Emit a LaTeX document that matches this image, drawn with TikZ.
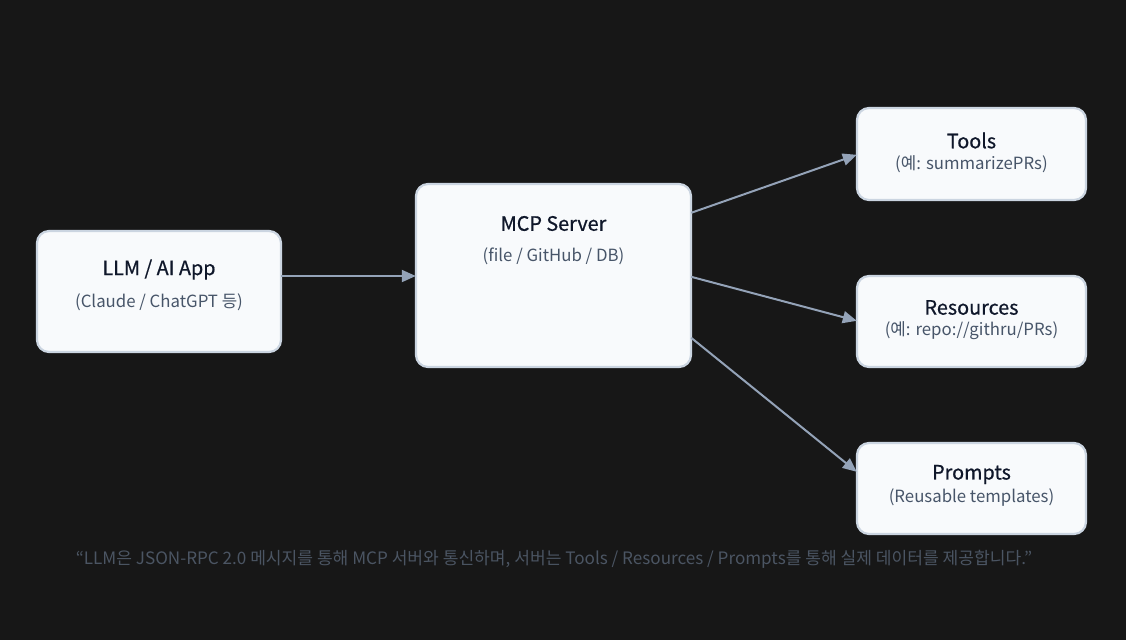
\documentclass[tikz,border=0pt]{standalone}
\usepackage{fontspec}
\setmainfont{Noto Sans CJK KR}
\newfontfamily\titlefont{Noto Sans CJK KR}[FakeBold=0.6]
\usetikzlibrary{arrows.meta,calc}
\definecolor{bg}{HTML}{171717}
\definecolor{boxfill}{HTML}{F8FAFC}
\definecolor{boxline}{HTML}{CBD5E1}
\definecolor{arrowc}{HTML}{94A3B8}
\definecolor{titlec}{HTML}{0F172A}
\definecolor{subc}{HTML}{475569}
\definecolor{capc}{HTML}{4B5563}
\tikzset{
  box/.style={draw=boxline, line width=2.2pt, fill=boxfill, rounded corners=12pt},
  ttl/.style={text=titlec, font=\titlefont\fontsize{19.8}{22}\selectfont, anchor=center, yshift=-1.5pt},
  sub/.style={text=subc, font=\fontsize{16.8}{19}\selectfont, anchor=center, yshift=-2pt},
  conn/.style={draw=arrowc, line width=2pt, -{Triangle[length=14pt,width=12pt]}},
}
\begin{document}
\begin{tikzpicture}[x=1pt,y=-1pt]
\fill[bg] (0,0) rectangle (1126,640);
\useasboundingbox (0,0) rectangle (1126,640);
% boxes
\path[box] (37,231) rectangle (281,352);
\node[inner sep=0, minimum width=244pt, minimum height=121pt] (llm) at (159,291.5) {};
\path[box] (416,184) rectangle (691,367);
\node[inner sep=0, minimum width=275pt, minimum height=183pt] (mcp) at (553.5,275.5) {};
\path[box] (857,108) rectangle (1086,200);
\node[inner sep=0, minimum width=229pt, minimum height=92pt] (tools) at (971.5,154) {};
\path[box] (857,276) rectangle (1086,367);
\node[inner sep=0, minimum width=229pt, minimum height=91pt] (res) at (971.5,321.5) {};
\path[box] (857,443) rectangle (1086,534);
\node[inner sep=0, minimum width=229pt, minimum height=91pt] (prm) at (971.5,488.5) {};
% texts
\node[ttl] (llmt) at (159,268) {LLM / AI App};
\node[sub] (llms) at (159,300) {(Claude / ChatGPT 등)};
\node[ttl] (mcpt) at (553.5,222) {MCP Server};
\node[sub] (mcps) at (553.5,254) {(file / GitHub / DB)};
\node[ttl] (toolst) at (971.5,139) {Tools};
\node[sub] (toolss) at (971.5,162) {(예: summarizePRs)};
\node[ttl] (rest) at (971.5,306) {Resources};
\node[sub] (ress) at (971.5,329) {(예: repo://githru/PRs)};
\node[ttl] (prmt) at (971.5,473) {Prompts};
\node[sub] (prms) at (971.5,496) {(Reusable templates)};
% connectors
\coordinate (m1) at ($(mcp.north east)+(0,29)$);
\coordinate (m2) at ($(mcp.north east)+(0,93)$);
\coordinate (m3) at ($(mcp.north east)+(0,154)$);
\coordinate (t1) at ($(tools.north west)+(0,47)$);
\coordinate (r1) at ($(res.north west)+(0,45)$);
\coordinate (p1) at ($(prm.north west)+(0,29)$);
\draw[conn] (llm.east |- 0,276) -- (mcp.west |- 0,276);
\draw[conn] (m1) -- (t1);
\draw[conn] (m2) -- (r1);
\draw[conn] (m3) -- (p1);
% caption
\node[text=capc, font=\fontsize{17.1}{20}\selectfont, anchor=center] (cap) at (554,559) {“LLM은 JSON-RPC 2.0 메시지를 통해 MCP 서버와 통신하며, 서버는 Tools / Resources / Prompts를 통해 실제 데이터를 제공합니다.”};
\end{tikzpicture}
\end{document}
